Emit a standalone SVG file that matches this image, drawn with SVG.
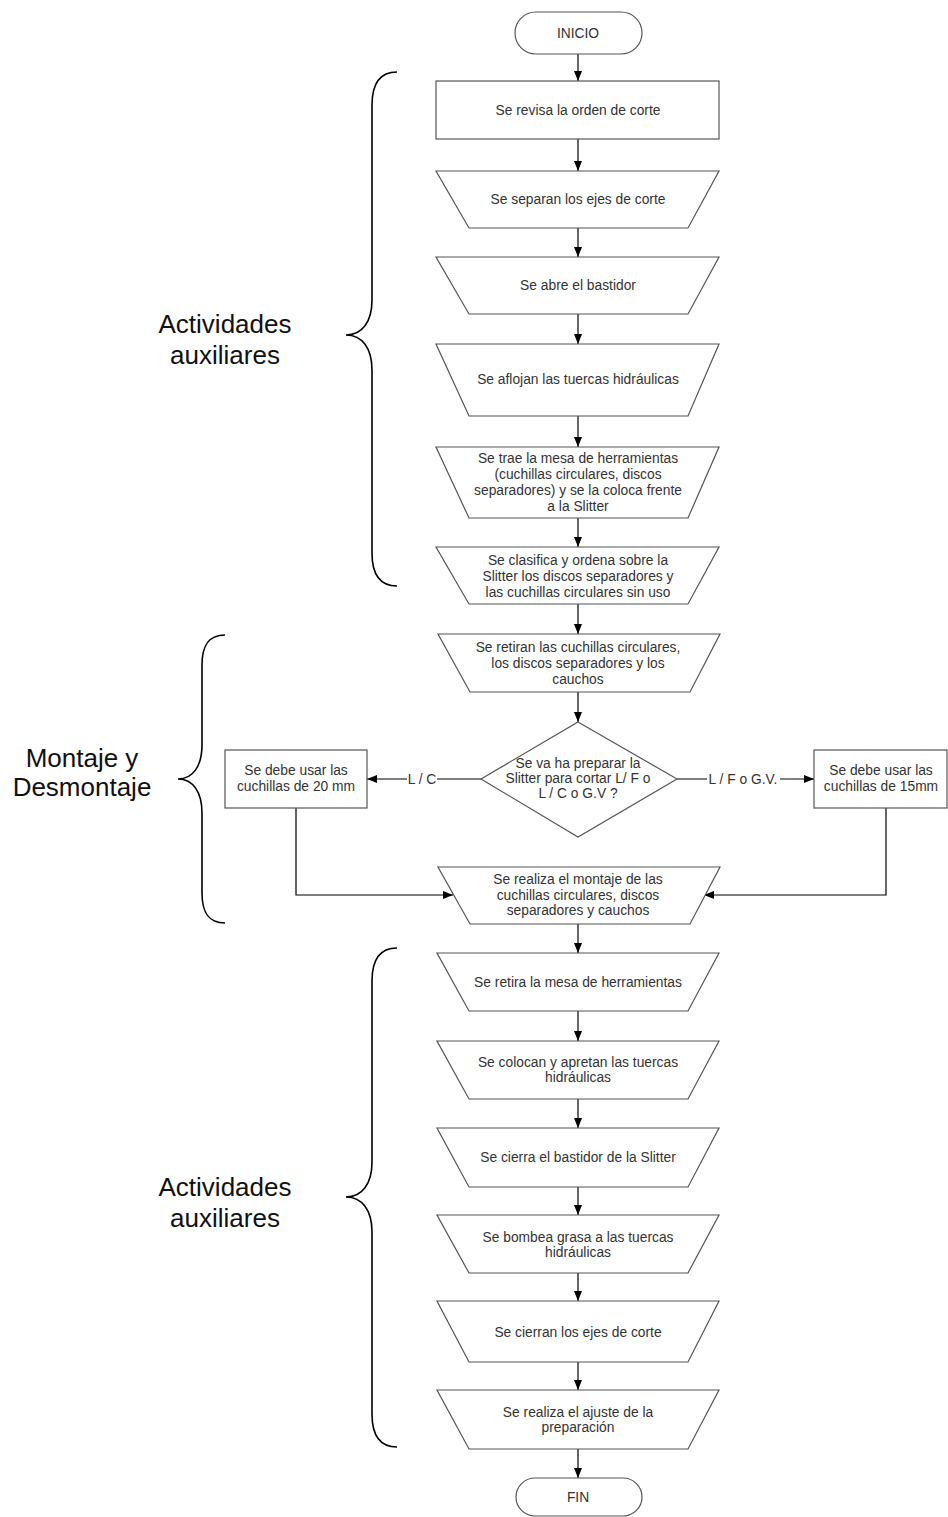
<svg xmlns="http://www.w3.org/2000/svg" width="948" height="1517" viewBox="0 0 948 1517">
<defs>
<marker id="ah" markerWidth="10" markerHeight="10" refX="10" refY="5" orient="auto" markerUnits="userSpaceOnUse">
<path d="M0,1 L10,5 L0,9 Z" fill="#000"/>
</marker>
<style>
.sh{fill:#fff;stroke:#555;stroke-width:1.2}
.t{font-family:"Liberation Sans",Arial,sans-serif;font-size:13.8px;fill:#333;text-anchor:middle}
.big{font-family:"Liberation Sans",Arial,sans-serif;font-size:26px;fill:#111;text-anchor:middle}
.c{fill:none;stroke:#000;stroke-width:1.2}
.a{marker-end:url(#ah)}
.br{fill:none;stroke:#000;stroke-width:1.6}
.bg{fill:#fff;stroke:none}
</style>
</defs>
<rect width="948" height="1517" fill="#fff"/>

<g id="braces">
<path class="br" d="M397,72 C380,72 372,84 372,105 L372,300 C372,322 362,335 346,335 C362,335 372,348 372,370 L372,553 C372,574 380,586 397,586"/>
<path class="br" d="M225,635 C208,635 202,646 202,665 L202,745 C202,766 193,779 178,779 C193,779 202,792 202,813 L202,893 C202,912 208,923 225,923"/>
<path class="br" d="M397,948 C380,948 372,960 372,981 L372,1162 C372,1184 362,1197 346,1197 C362,1197 372,1210 372,1232 L372,1414 C372,1435 380,1447 397,1447"/>
<text class="big" x="225" y="333">Actividades</text>
<text class="big" x="225" y="364">auxiliares</text>
<text class="big" x="82" y="767">Montaje y</text>
<text class="big" x="82" y="796">Desmontaje</text>
<text class="big" x="225" y="1196">Actividades</text>
<text class="big" x="225" y="1227">auxiliares</text>
</g>

<g id="connectors">
<path class="c a" d="M578,54 L578,81"/>
<path class="c a" d="M578,139 L578,171"/>
<path class="c a" d="M578,228 L578,257"/>
<path class="c a" d="M578,314 L578,344"/>
<path class="c a" d="M578,416 L578,447"/>
<path class="c a" d="M578,518 L578,547"/>
<path class="c a" d="M578,604 L578,634"/>
<path class="c a" d="M578,692 L578,722"/>
<path class="c a" d="M481,779 L367,779"/>
<path class="c a" d="M677,779 L814,779"/>
<path class="c a" d="M296,808 L296,895 L453,895"/>
<path class="c a" d="M886,808 L886,895 L704,895"/>
<path class="c a" d="M578,924 L578,953"/>
<path class="c a" d="M578,1011 L578,1041"/>
<path class="c a" d="M578,1099 L578,1128"/>
<path class="c a" d="M578,1187 L578,1215"/>
<path class="c a" d="M578,1273 L578,1301"/>
<path class="c a" d="M578,1362 L578,1390"/>
<path class="c a" d="M578,1449 L578,1478"/>
<rect class="bg" x="407" y="771" width="30" height="16"/>
<text class="t" x="422" y="784">L / C</text>
<rect class="bg" x="707" y="771" width="73" height="16"/>
<text class="t" x="743" y="784">L / F o G.V.</text>
</g>

<g id="inicio">
<rect class="sh" x="515" y="12" width="127" height="42" rx="21"/>
<text class="t" x="578" y="38">INICIO</text>
</g>
<g id="n1">
<rect class="sh" x="436" y="81" width="283" height="58"/>
<text class="t" x="578" y="115">Se revisa la orden de corte</text>
</g>
<g id="n2">
<polygon class="sh" points="436,171 719,171 688,228 469,228"/>
<text class="t" x="578" y="204">Se separan los ejes de corte</text>
</g>
<g id="n3">
<polygon class="sh" points="436,257 719,257 688,314 469,314"/>
<text class="t" x="578" y="290">Se abre el bastidor</text>
</g>
<g id="n4">
<polygon class="sh" points="436,344 719,344 688,416 469,416"/>
<text class="t" x="578" y="384">Se aflojan las tuercas hidráulicas</text>
</g>
<g id="n5">
<polygon class="sh" points="436,447 719,447 688,518 469,518"/>
<text class="t" x="578" y="463">Se trae la mesa de herramientas</text>
<text class="t" x="578" y="479">(cuchillas circulares, discos</text>
<text class="t" x="578" y="495">separadores) y se la coloca frente</text>
<text class="t" x="578" y="511">a la Slitter</text>
</g>
<g id="n6">
<polygon class="sh" points="436,547 719,547 688,604 469,604"/>
<text class="t" x="578" y="565">Se clasifica y ordena sobre la</text>
<text class="t" x="578" y="581">Slitter los discos separadores y</text>
<text class="t" x="578" y="597">las cuchillas circulares sin uso</text>
</g>
<g id="n7">
<polygon class="sh" points="438,634 720,634 690,692 470,692"/>
<text class="t" x="578" y="652">Se retiran las cuchillas circulares,</text>
<text class="t" x="578" y="668">los discos separadores y los</text>
<text class="t" x="578" y="684">cauchos</text>
</g>
<g id="d1">
<polygon class="sh" points="578,722 677,779 578,837 481,779"/>
<text class="t" x="578" y="768">Se va ha preparar la</text>
<text class="t" x="578" y="783">Slitter para cortar L/ F o</text>
<text class="t" x="578" y="798">L / C o G.V ?</text>
</g>
<g id="n8">
<rect class="sh" x="225" y="750" width="142" height="58"/>
<text class="t" x="296" y="775">Se debe usar las</text>
<text class="t" x="296" y="791">cuchillas de 20 mm</text>
</g>
<g id="n9">
<rect class="sh" x="814" y="750" width="133" height="58"/>
<text class="t" x="881" y="775">Se debe usar las</text>
<text class="t" x="881" y="791">cuchillas de 15mm</text>
</g>
<g id="n10">
<polygon class="sh" points="438,867 720,867 690,924 470,924"/>
<text class="t" x="578" y="884">Se realiza el montaje de las</text>
<text class="t" x="578" y="900">cuchillas circulares, discos</text>
<text class="t" x="578" y="915">separadores y cauchos</text>
</g>
<g id="n11">
<polygon class="sh" points="437,953 719,953 688,1011 469,1011"/>
<text class="t" x="578" y="987">Se retira la mesa de herramientas</text>
</g>
<g id="n12">
<polygon class="sh" points="437,1041 719,1041 688,1099 469,1099"/>
<text class="t" x="578" y="1067">Se colocan y apretan las  tuercas</text>
<text class="t" x="578" y="1082">hidráulicas</text>
</g>
<g id="n13">
<polygon class="sh" points="437,1128 719,1128 688,1187 469,1187"/>
<text class="t" x="578" y="1162">Se cierra el bastidor de la Slitter</text>
</g>
<g id="n14">
<polygon class="sh" points="437,1215 719,1215 688,1273 469,1273"/>
<text class="t" x="578" y="1242">Se bombea grasa a las tuercas</text>
<text class="t" x="578" y="1257">hidráulicas</text>
</g>
<g id="n15">
<polygon class="sh" points="437,1301 719,1301 688,1362 469,1362"/>
<text class="t" x="578" y="1337">Se cierran los ejes de corte</text>
</g>
<g id="n16">
<polygon class="sh" points="437,1390 719,1390 688,1449 469,1449"/>
<text class="t" x="578" y="1417">Se realiza el ajuste de la</text>
<text class="t" x="578" y="1432">preparación</text>
</g>
<g id="fin">
<rect class="sh" x="516" y="1478" width="126" height="38" rx="19"/>
<text class="t" x="578" y="1502">FIN</text>
</g>
</svg>
